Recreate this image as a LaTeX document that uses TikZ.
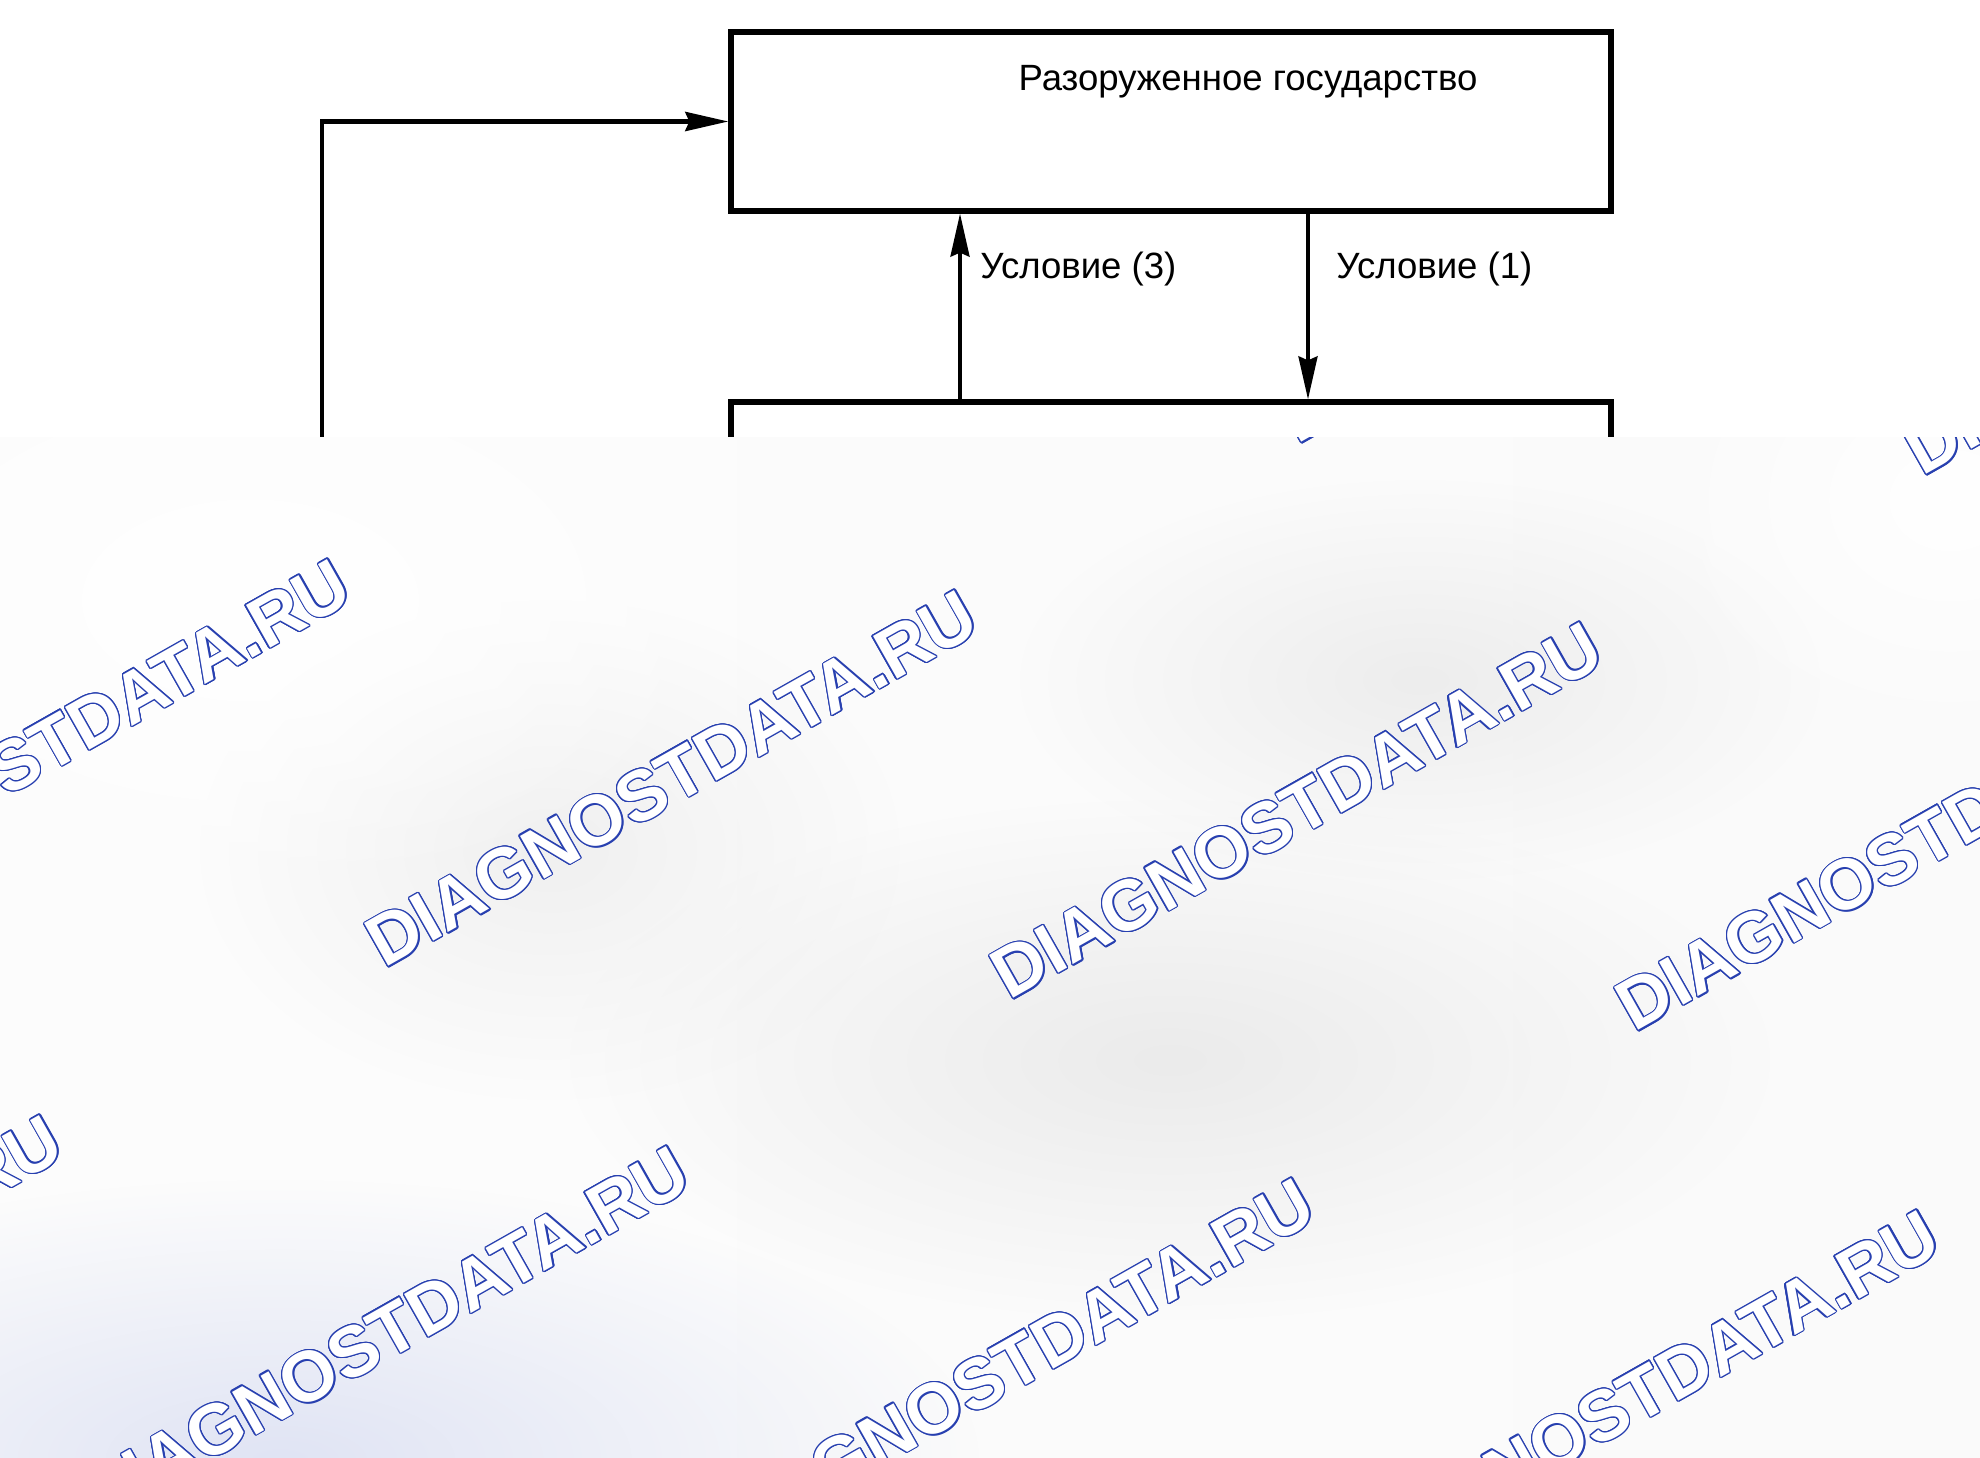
\documentclass[tikz,border=0pt]{standalone}
\usepackage{fontspec}
\setmainfont{Liberation Sans}
\usepackage{contour}
\usepackage{tikz}
\usetikzlibrary{arrows.meta,positioning,fadings}
\definecolor{wmblue}{RGB}{40,64,176}
\definecolor{tint}{RGB}{224,228,244}
\contourlength{0.35pt}
\newcommand{\boxfont}{\fontsize{10.4pt}{12.5pt}\selectfont}
\newcommand{\wmfont}{\fontsize{20.3pt}{24pt}\selectfont\bfseries}
\newcommand{\wmtext}{\textcolor{white}{\contour{wmblue}{DIAGNOSTDATA.RU}}}
\tikzfading[name=soft, inner color=transparent!0, outer color=transparent!100]
\tikzstyle{edge}   =[>={Stealth[length=4.3mm, width=1.9mm, inset=0.4mm]}, line width=1pt]
\tikzstyle{state}  =[rectangle, draw, line width=1.5pt, minimum width=8.8cm,
                     minimum height=1.79cm, inner sep=0pt]
\tikzstyle{boxtext}=[inner sep=1pt, font=\boxfont]
\tikzstyle{wmark}  =[rotate=29.5, inner sep=0pt, font=\wmfont]
\tikzstyle{blot}   =[path fading=soft]

\begin{document}
\begin{tikzpicture}[node distance=3.7cm, on grid]
  \useasboundingbox (0,0) rectangle (19.8,-14.58);
  \node (top) [state] at (11.71,-1.215) {};
  \node (bot) [state, below=of top] {};
  \node (title) [boxtext, above right=0.395cm and 0.77cm of top] {Разоруженное государство};
  \coordinate (back) at (3.22,-6.5);
  \draw[edge,->, line width=1.3pt] (back) |- (top.west);
  \draw[edge,->] ([xshift=-2.11cm]bot.north) -- node (c3) [boxtext, right, pos=0.7, xshift=0.15cm] {Условие (3)} ([xshift=-2.11cm]top.south);
  \draw[edge,->] ([xshift=1.37cm]top.south) -- node (c1) [boxtext, right, pos=0.3, xshift=0.23cm] {Условие (1)} ([xshift=1.37cm]bot.north);

  % overlay
  \begin{scope}
    \clip (0,-4.37) rectangle (19.8,-14.58);
    \fill[left color=gray!2, middle color=gray!8, right color=gray!4] (0,-4.37) rectangle (19.8,-14.58);
    \fill[blot, gray!16] (11.7,-10.6) ellipse (6cm and 2.6cm);
    \fill[blot, gray!14] (14.2,-6.8) ellipse (4cm and 2cm);
    \fill[blot, gray!12] (5.5,-8.5) ellipse (3.5cm and 2.5cm);
    \fill[blot, tint] (2.8,-14.6) ellipse (7cm and 2.8cm);
    \fill[blot, white] (2.5,-6.0) ellipse (5cm and 3cm);
    \fill[blot, white] (19.5,-5.0) ellipse (3cm and 2.5cm);
    \node (wm1)  [wmark] at (9.60,-2.23)   {\wmtext};
    \node (wm2)  [wmark] at (15.85,-2.55)  {\wmtext};
    \node (wm3)  [wmark] at (22.10,-2.87)  {\wmtext};
    \node (wm4)  [wmark] at (0.45,-7.48)   {\wmtext};
    \node (wm5)  [wmark] at (6.72,-7.79)   {\wmtext};
    \node (wm6)  [wmark] at (12.97,-8.11)  {\wmtext};
    \node (wm7)  [wmark] at (19.22,-8.43)  {\wmtext};
    \node (wm8)  [wmark] at (-2.43,-13.04) {\wmtext};
    \node (wm9)  [wmark] at (3.84,-13.35)  {\wmtext};
    \node (wm10) [wmark] at (10.09,-13.67) {\wmtext};
    \node (wm11) [wmark] at (16.34,-13.99) {\wmtext};
  \end{scope}
\end{tikzpicture}
\end{document}
